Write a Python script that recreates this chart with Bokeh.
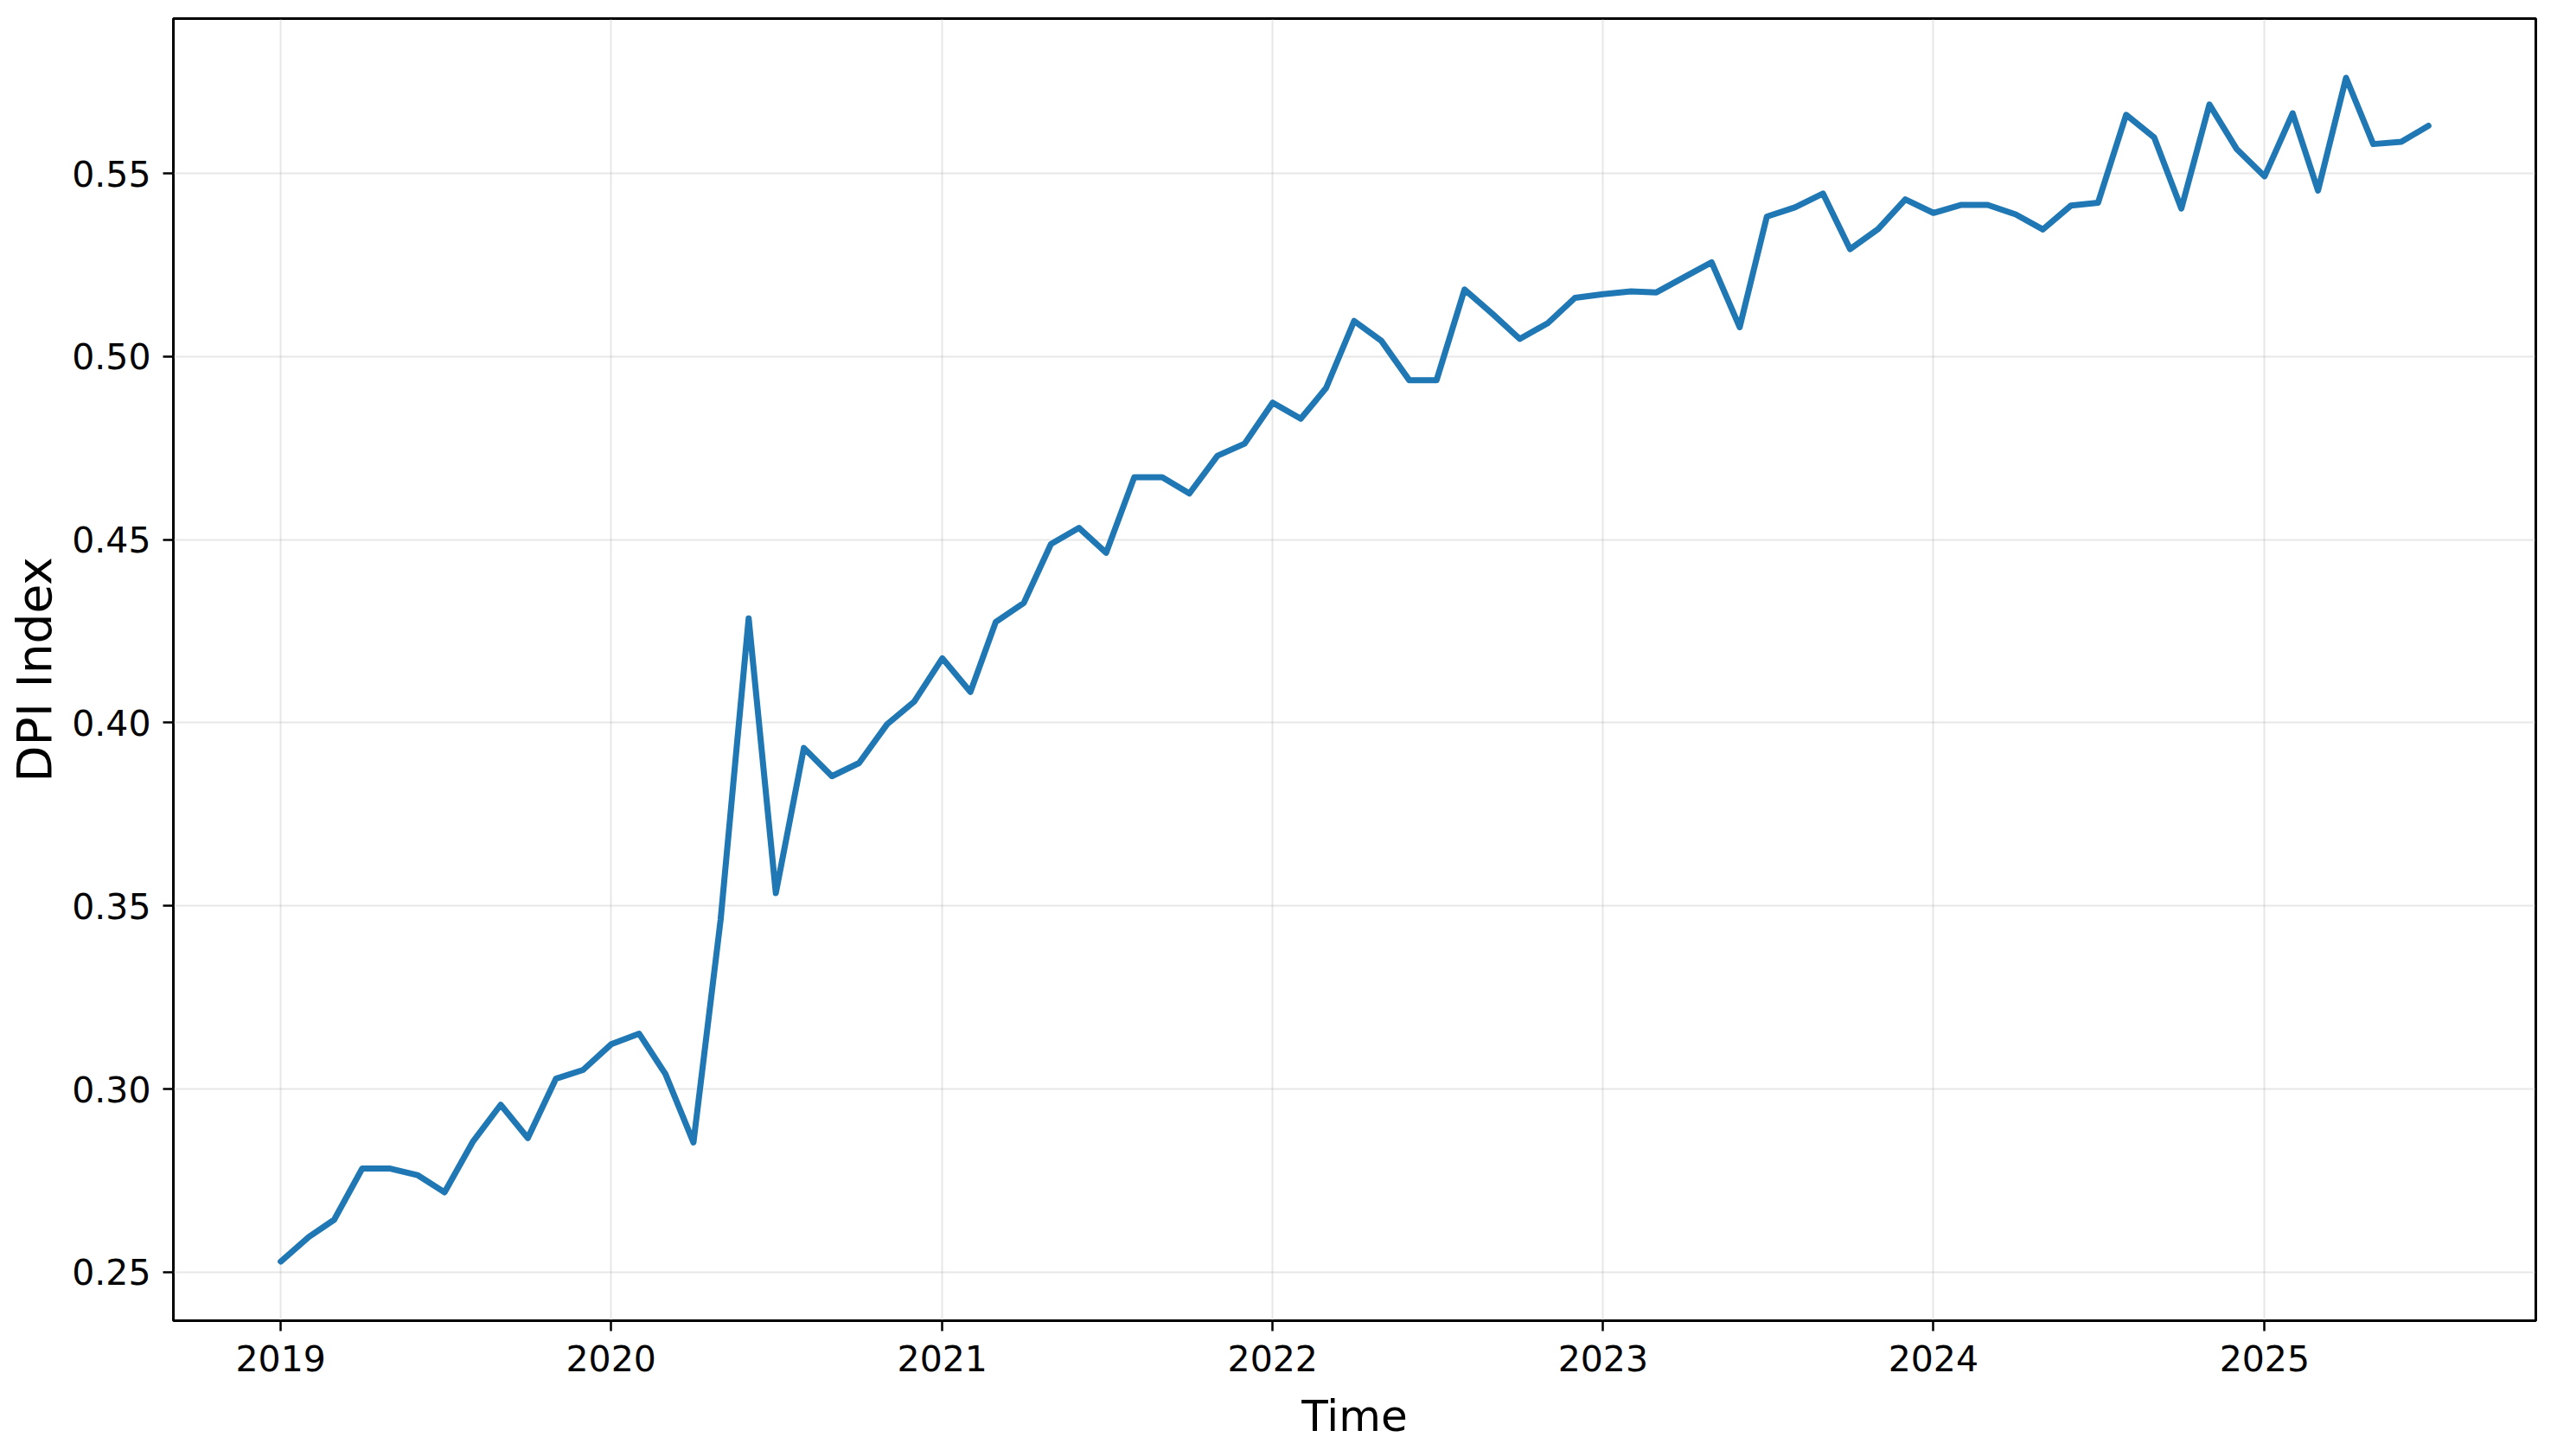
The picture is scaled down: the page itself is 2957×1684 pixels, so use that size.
import pandas as pd
from bokeh.plotting import figure
from bokeh.models import Range1d, FixedTicker, DatetimeTickFormatter, NumeralTickFormatter, ColumnDataSource
from bokeh.embed import file_html
from bokeh.resources import INLINE

# ---- data (monthly, Jan 2019 .. Jul 2025) ----
start_month = "2019-01-01"
n_months = 79
dpi_2019 = [0.2529, 0.2596, 0.2643, 0.2783, 0.2783, 0.2765, 0.2718, 0.2855, 0.2957, 0.2866, 0.3028, 0.3052]
dpi_2020 = [0.3122, 0.3151, 0.3041, 0.2854, 0.3462, 0.4285, 0.3535, 0.3931, 0.3854, 0.3890, 0.3996, 0.4058]
dpi_2021 = [0.4176, 0.4084, 0.4275, 0.4327, 0.4488, 0.4532, 0.4464, 0.4670, 0.4670, 0.4626, 0.4729, 0.4762]
dpi_2022 = [0.4874, 0.4830, 0.4914, 0.5097, 0.5043, 0.4935, 0.4935, 0.5183, 0.5116, 0.5048, 0.5091, 0.5160]
dpi_2023 = [0.5170, 0.5178, 0.5175, 0.5217, 0.5257, 0.5080, 0.5382, 0.5407, 0.5445, 0.5293, 0.5348, 0.5429]
dpi_2024 = [0.5392, 0.5414, 0.5414, 0.5388, 0.5347, 0.5412, 0.5420, 0.5660, 0.5598, 0.5404, 0.5688, 0.5567]
dpi_2025 = [0.5492, 0.5664, 0.5453, 0.5761, 0.5580, 0.5586, 0.5630]
year_ticks = [2019, 2020, 2021, 2022, 2023, 2024, 2025]
y_ticks = [0.25, 0.30, 0.35, 0.40, 0.45, 0.50, 0.55]
x_label = "Time"
y_label = "DPI Index"

values = dpi_2019 + dpi_2020 + dpi_2021 + dpi_2022 + dpi_2023 + dpi_2024 + dpi_2025
dates = pd.date_range(start_month, periods=n_months, freq="MS")
src = ColumnDataSource(dict(t=dates, v=values))

# matplotlib-like 5% margins
t0, t1 = dates[0], dates[-1]
span = t1 - t0
x_start, x_end = t0 - 0.05 * span, t1 + 0.05 * span
vmin, vmax = min(values), max(values)
vr = vmax - vmin
y_start, y_end = vmin - 0.05 * vr, vmax + 0.05 * vr

p = figure(width=2957, height=1684, x_axis_type="datetime",
           output_backend="svg", toolbar_location=None,
           x_range=Range1d(x_start, x_end), y_range=Range1d(y_start, y_end),
           min_border_left=200, min_border_right=25, min_border_top=21, min_border_bottom=157)

p.line("t", "v", source=src, line_color="#1f77b4", line_width=7, line_join="round", line_cap="round")

FONT = "DejaVu Sans"
tick_ms = [pd.Timestamp(f"{y}-01-01").value // 10**6 for y in year_ticks]
p.xaxis.ticker = FixedTicker(ticks=tick_ms)
p.xaxis.formatter = DatetimeTickFormatter(years="%Y", months="%Y", days="%Y", hours="%Y",
                                          minutes="%Y", seconds="%Y", milliseconds="%Y", microseconds="%Y")
p.yaxis.ticker = FixedTicker(ticks=y_ticks)
p.yaxis.formatter = NumeralTickFormatter(format="0.00")

p.xaxis.axis_label = x_label
p.yaxis.axis_label = y_label

for ax in (p.xaxis, p.yaxis):
    ax.axis_line_color = None
    ax.major_tick_out = 12
    ax.major_tick_in = 0
    ax.major_tick_line_width = 2.5
    ax.major_tick_line_color = "black"
    ax.minor_tick_line_color = None
    ax.major_label_text_font = FONT
    ax.major_label_text_font_size = "41px"
    ax.major_label_text_color = "black"
    ax.axis_label_text_font = FONT
    ax.axis_label_text_font_style = "normal"
    ax.axis_label_text_color = "black"
    ax.major_label_standoff = 14

p.xaxis.major_label_standoff = 16
p.xaxis.axis_label_text_font_size = "50px"
p.yaxis.axis_label_text_font_size = "55px"
p.xaxis.axis_label_standoff = 20
p.yaxis.axis_label_standoff = 8

p.xgrid.ticker = p.xaxis.ticker
p.ygrid.ticker = p.yaxis.ticker
for g in (p.xgrid, p.ygrid):
    g.grid_line_color = "#b0b0b0"
    g.grid_line_alpha = 0.3
    g.grid_line_width = 2

p.outline_line_color = "black"
p.outline_line_width = 3
p.outline_line_alpha = 1.0
p.background_fill_color = "white"
p.border_fill_color = "white"

open("out.html", "w").write(file_html(p, INLINE))
